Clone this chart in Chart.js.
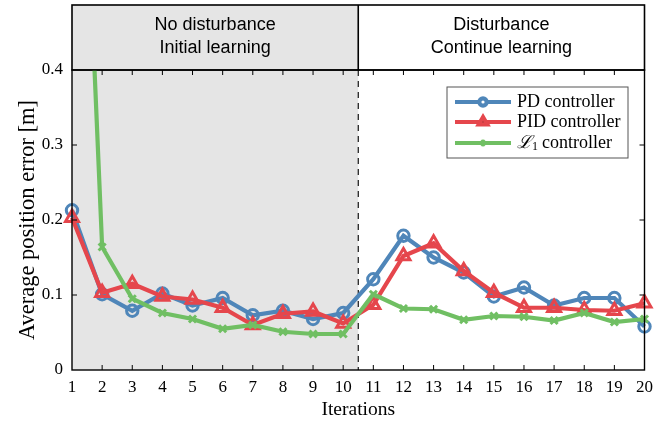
<!DOCTYPE html>
<html lang="en">
<head>
    <meta charset="UTF-8">
    <title>Average position error</title>
    <script src="https://cdn.jsdelivr.net/npm/chart.js"></script>
    <style>
        html, body { margin: 0; padding: 0; background: #fff; }
        #wrap { width: 655px; height: 424px; }
    </style>
</head>
<body>
    <div id="wrap"><canvas id="errorChart"></canvas></div>
    <script>
        // Data
        const iterations = [1, 2, 3, 4, 5, 6, 7, 8, 9, 10, 11, 12, 13, 14, 15, 16, 17, 18, 19, 20];
        const pdError  = [0.213, 0.101, 0.079, 0.102, 0.086, 0.096, 0.073, 0.079, 0.068, 0.076,
                          0.121, 0.179, 0.150, 0.130, 0.098, 0.110, 0.086, 0.096, 0.096, 0.058];
        const pidError = [0.203, 0.103, 0.115, 0.098, 0.094, 0.083, 0.060, 0.075, 0.078, 0.062,
                          0.087, 0.152, 0.169, 0.132, 0.103, 0.083, 0.083, 0.080, 0.079, 0.089];
        const l1Error  = [1.10, 0.164, 0.095, 0.076, 0.068, 0.055, 0.060, 0.051, 0.048, 0.048,
                          0.101, 0.082, 0.081, 0.067, 0.072, 0.071, 0.066, 0.076, 0.064, 0.068];
        const yTicks = [0, 0.1, 0.2, 0.3, 0.4];
        const seriesLabels = ['PD controller', 'PID controller', 'controller'];
        const phaseLabels = [['No disturbance', 'Initial learning'], ['Disturbance', 'Continue learning']];
        const phaseSplit = 10.5;

        const serif = "'Liberation Serif', 'DejaVu Serif', serif";
        const sans = "'Liberation Sans', Arial, sans-serif";

        function points(values) {
            return iterations.map((it, i) => ({ x: it, y: values[i] }));
        }

        // header boxes, shaded phase, dashed divider, frame, legend
        const backdrop = {
            id: 'backdrop',
            beforeDatasetsDraw(chart) {
                const { ctx, chartArea: a, scales: { x } } = chart;
                const split = x.getPixelForValue(phaseSplit);
                const headTop = 5;
                ctx.save();
                ctx.fillStyle = '#e5e5e5';
                ctx.fillRect(a.left, headTop, split - a.left, a.bottom - headTop);

                ctx.fillStyle = '#000';
                ctx.font = '18px ' + sans;
                ctx.textAlign = 'center';
                ctx.textBaseline = 'middle';
                const mids = [(a.left + split) / 2, (split + a.right) / 2];
                phaseLabels.forEach((lines, i) => {
                    ctx.fillText(lines[0], mids[i], 25);
                    ctx.fillText(lines[1], mids[i], 48);
                });

                ctx.strokeStyle = '#000';
                ctx.lineWidth = 1.6;
                ctx.strokeRect(a.left, headTop, a.right - a.left, a.top - headTop);
                ctx.beginPath();
                ctx.moveTo(split, headTop);
                ctx.lineTo(split, a.top);
                ctx.stroke();

                ctx.lineWidth = 1.1;
                ctx.setLineDash([6, 5]);
                ctx.beginPath();
                ctx.moveTo(split, a.top);
                ctx.lineTo(split, a.bottom);
                ctx.stroke();
                ctx.restore();
            },
            afterDatasetsDraw(chart) {
                const { ctx, chartArea: a, scales: { x, y } } = chart;
                ctx.save();
                ctx.strokeStyle = '#000';
                ctx.lineWidth = 1;
                const tl = 5;
                ctx.beginPath();
                iterations.forEach(it => {
                    if (it === 1 || it === 20) return;
                    const px = x.getPixelForValue(it);
                    ctx.moveTo(px, a.bottom); ctx.lineTo(px, a.bottom - tl);
                    ctx.moveTo(px, a.top); ctx.lineTo(px, a.top + tl);
                });
                yTicks.forEach(v => {
                    if (v === 0 || v === 0.4) return;
                    const py = y.getPixelForValue(v);
                    ctx.moveTo(a.left, py); ctx.lineTo(a.left + tl, py);
                    ctx.moveTo(a.right, py); ctx.lineTo(a.right - tl, py);
                });
                ctx.stroke();
                ctx.lineWidth = 1.4;
                ctx.strokeRect(a.left, a.top, a.right - a.left, a.bottom - a.top);
                ctx.restore();
            },
            afterDraw(chart) {
                const { ctx } = chart;
                const bx = 447, by = 87, bw = 181, bh = 71;
                ctx.save();
                ctx.fillStyle = '#fff';
                ctx.fillRect(bx, by, bw, bh);
                ctx.strokeStyle = '#555';
                ctx.lineWidth = 1;
                ctx.strokeRect(bx, by, bw, bh);
                const rows = [102, 122, 143];
                chart.data.datasets.forEach((ds, i) => {
                    const ry = rows[i];
                    ctx.strokeStyle = ds.borderColor;
                    ctx.lineWidth = ds.borderWidth;
                    ctx.beginPath();
                    ctx.moveTo(455, ry);
                    ctx.lineTo(511, ry);
                    ctx.stroke();
                    Chart.helpers.drawPoint(ctx, {
                        pointStyle: ds.pointStyle,
                        radius: ds.pointRadius * 0.65,
                        borderWidth: ds.pointBorderWidth,
                        rotation: 0
                    }, 483, ry);
                    ctx.fillStyle = '#000';
                    ctx.textBaseline = 'middle';
                    ctx.textAlign = 'left';
                    let tx = 517;
                    if (i === 2) {
                        ctx.font = 'italic 18px ' + serif;
                        ctx.fillText('\u2112', tx, ry);
                        tx += ctx.measureText('\u2112').width;
                        ctx.font = '12px ' + serif;
                        ctx.fillText('1', tx, ry + 4);
                        tx += ctx.measureText('1').width + 4;
                    }
                    ctx.font = '18px ' + serif;
                    ctx.fillText(ds.label, tx, ry);
                });
                ctx.restore();
            }
        };

        function series(label, values, color, style, radius, order, clip) {
            return {
                label: label,
                data: points(values),
                borderColor: color,
                backgroundColor: color,
                borderWidth: 4.2,
                pointStyle: style,
                pointRadius: radius,
                pointBorderWidth: 3,
                pointBackgroundColor: 'rgba(0,0,0,0)',
                pointBorderColor: color,
                tension: 0,
                order: order,
                clip: clip
            };
        }

        new Chart(document.getElementById('errorChart'), {
            type: 'line',
            data: {
                datasets: [
                    series(seriesLabels[0], pdError, '#4f86b9', 'circle', 5.7, 3, false),
                    series(seriesLabels[1], pidError, '#e5464c', 'triangle', 7.5, 2, false),
                    series(seriesLabels[2], l1Error, '#70bf63', 'crossRot', 5, 1, { left: false, right: false, bottom: false, top: 0 })
                ]
            },
            plugins: [backdrop],
            options: {
                responsive: true,
                maintainAspectRatio: false,
                animation: false,
                layout: { padding: { top: 70, right: 8, left: 0, bottom: 0 } },
                plugins: {
                    legend: { display: false },
                    tooltip: { enabled: false }
                },
                scales: {
                    x: {
                        type: 'linear',
                        min: 1,
                        max: 20,
                        afterBuildTicks: s => { s.ticks = iterations.map(v => ({ value: v })); },
                        afterFit: s => { s.height = 54; s.paddingLeft = 0; s.paddingRight = 0; },
                        grid: { display: false, drawTicks: false },
                        border: { display: false },
                        ticks: {
                            color: '#000',
                            font: { family: serif, size: 17 },
                            padding: 7,
                            maxRotation: 0,
                            autoSkip: false
                        },
                        title: {
                            display: true,
                            text: 'Iterations',
                            color: '#000',
                            font: { family: serif, size: 19.5 },
                            padding: { top: 0, bottom: 2 }
                        }
                    },
                    y: {
                        min: 0,
                        max: 0.4,
                        afterBuildTicks: s => { s.ticks = yTicks.map(v => ({ value: v })); },
                        afterFit: s => { s.width = 72; },
                        grid: { display: false, drawTicks: false },
                        border: { display: false },
                        ticks: {
                            color: '#000',
                            font: { family: serif, size: 17 },
                            padding: 9,
                            callback: v => v === 0 ? '0' : v.toFixed(1)
                        },
                        title: {
                            display: true,
                            text: 'Average position error [m]',
                            color: '#000',
                            font: { family: serif, size: 22.5 },
                            padding: { top: 15, bottom: 0 }
                        }
                    }
                }
            }
        });
    </script>
</body>
</html>
